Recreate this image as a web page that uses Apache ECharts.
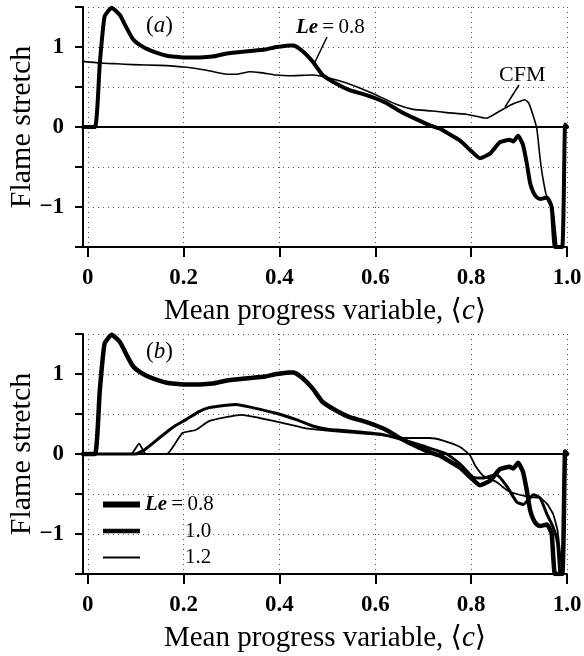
<!DOCTYPE html>
<html>
<head>
<meta charset="utf-8">
<script src="https://cdn.jsdelivr.net/npm/echarts@6/dist/echarts.min.js"></script>
<style>
html,body{margin:0;padding:0;background:#fff;}
#chart{width:584px;height:656px;}
</style>
</head>
<body>
<div id="chart"></div>
<script>
// ---- data ----
const xTickValues = [0, 0.2, 0.4, 0.6, 0.8, 1.0];
const xTickLabels = ['0', '0.2', '0.4', '0.6', '0.8', '1.0'];
const yTickLabels = { '-1': '\u22121', '0': '0', '1': '1' };

// Le = 0.8 (same curve in panels a and b)
const le08X = [-0.01, 0.015, 0.025, 0.035, 0.05, 0.067, 0.08, 0.094, 0.11, 0.129, 0.165, 0.2, 0.234, 0.26, 0.29, 0.338, 0.37, 0.394, 0.42, 0.43, 0.448, 0.469, 0.49, 0.519, 0.546, 0.57, 0.595, 0.623, 0.645, 0.67, 0.692, 0.714, 0.735, 0.749, 0.777, 0.8, 0.818, 0.84, 0.86, 0.88, 0.888, 0.898, 0.908, 0.916, 0.923, 0.93, 0.937, 0.944, 0.958, 0.968, 0.975, 0.99, 0.996, 1.0];
const le08Y = [0, 0, 0.79, 1.38, 1.49, 1.4, 1.25, 1.1, 1.02, 0.96, 0.89, 0.87, 0.87, 0.88, 0.92, 0.95, 0.97, 1.0, 1.02, 1.02, 0.95, 0.82, 0.65, 0.54, 0.46, 0.42, 0.37, 0.3, 0.22, 0.14, 0.08, 0.02, -0.02, -0.07, -0.17, -0.3, -0.39, -0.33, -0.19, -0.16, -0.18, -0.11, -0.22, -0.45, -0.7, -0.82, -0.88, -0.9, -0.88, -1.0, -1.5, -1.5, 0.03, 0.0];

// CFM (panel a)
const cfmX = [-0.01, 0.025, 0.06, 0.094, 0.15, 0.2, 0.248, 0.29, 0.31, 0.338, 0.36, 0.394, 0.42, 0.47, 0.505, 0.54, 0.595, 0.645, 0.679, 0.72, 0.749, 0.79, 0.832, 0.86, 0.875, 0.888, 0.902, 0.912, 0.92, 0.929, 0.937, 0.944, 0.95, 0.958, 0.965, 0.971, 0.979];
const cfmY = [0.82, 0.8, 0.79, 0.78, 0.77, 0.75, 0.71, 0.66, 0.66, 0.69, 0.68, 0.65, 0.64, 0.65, 0.61, 0.55, 0.42, 0.28, 0.22, 0.2, 0.18, 0.16, 0.11, 0.2, 0.25, 0.29, 0.32, 0.34, 0.3, 0.15, -0.02, -0.4, -0.65, -0.88, -0.92, -1.04, -1.5];

// Le = 1.0 (panel b)
const le10X = [-0.01, 0.1, 0.12, 0.149, 0.17, 0.184, 0.205, 0.232, 0.253, 0.289, 0.31, 0.343, 0.393, 0.435, 0.469, 0.5, 0.54, 0.609, 0.657, 0.7, 0.749, 0.776, 0.804, 0.825, 0.853, 0.874, 0.895, 0.909, 0.93, 0.944, 0.958, 0.97, 0.98, 0.985];
const le10Y = [0, 0, 0.06, 0.2, 0.3, 0.36, 0.43, 0.53, 0.58, 0.61, 0.62, 0.58, 0.51, 0.43, 0.35, 0.31, 0.29, 0.25, 0.18, 0.1, 0.0, -0.12, -0.29, -0.3, -0.26, -0.4, -0.6, -0.63, -0.51, -0.55, -0.75, -0.9, -1.1, -1.5];

// Le = 1.2 (panel b)
const le12X = [-0.01, 0.09, 0.107, 0.121, 0.165, 0.197, 0.225, 0.253, 0.289, 0.322, 0.358, 0.406, 0.448, 0.469, 0.54, 0.609, 0.657, 0.713, 0.74, 0.776, 0.797, 0.808, 0.825, 0.853, 0.874, 0.895, 0.923, 0.944, 0.958, 0.971, 0.98, 0.99];
const le12Y = [0, 0, 0.13, 0.0, 0.0, 0.26, 0.3, 0.41, 0.46, 0.49, 0.45, 0.39, 0.33, 0.31, 0.27, 0.24, 0.2, 0.2, 0.17, 0.09, -0.01, -0.14, -0.27, -0.35, -0.45, -0.5, -0.54, -0.55, -0.62, -0.75, -0.95, -1.5];

// ---- chart ----
const FONT = '"Liberation Serif", "DejaVu Serif", serif';
const pairs = (xs, ys) => xs.map((x, i) => [x, ys[i]]);

function xAxisFor(gridIndex) {
  return {
    type: 'value', gridIndex, min: -0.01, max: 1.0,
    name: 'Mean progress variable, \u27e8{it|c}\u27e9',
    nameLocation: 'middle', nameGap: 50,
    nameTextStyle: { fontFamily: FONT, fontSize: 29, color: '#000',
      rich: { it: { fontFamily: FONT, fontSize: 29, fontStyle: 'italic', color: '#000' } } },
    axisLine: { show: true, onZero: false, lineStyle: { color: '#000', width: 2 } },
    axisTick: { show: true, inside: false, length: 10, customValues: xTickValues, lineStyle: { color: '#000', width: 2 } },
    axisLabel: { customValues: xTickValues, margin: 20, fontFamily: FONT, fontSize: 23, fontWeight: 'bold', color: '#000',
      formatter: v => xTickLabels[xTickValues.findIndex(t => Math.abs(t - v) < 1e-6)] },
    splitLine: { show: true, lineStyle: { color: '#555', width: 1, type: [1, 4] } }
  };
}
function yAxisFor(gridIndex) {
  return {
    type: 'value', gridIndex, min: -1.5, max: 1.5, interval: 0.5,
    name: 'Flame stretch', nameLocation: 'middle', nameGap: 46, nameRotate: 90,
    nameMoveOverlap: false,
    nameTextStyle: { fontFamily: FONT, fontSize: 30, color: '#000' },
    axisLine: { show: true, onZero: false, lineStyle: { color: '#000', width: 2 } },
    axisTick: { show: true, length: 8, lineStyle: { color: '#000', width: 2 } },
    axisLabel: { margin: 19, fontFamily: FONT, fontSize: 23, fontWeight: 'bold', color: '#000',
      formatter: v => Number.isInteger(v) && yTickLabels[String(v)] !== undefined ? yTickLabels[String(v)] : '' },
    splitLine: { show: true, lineStyle: { color: '#555', width: 1, type: [1, 4] } }
  };
}
const zeroLine = {
  silent: true, symbol: ['none', 'none'], label: { show: false },
  lineStyle: { color: '#000', width: 2, type: 'solid' },
  data: [{ yAxis: 0 }]
};
function lineSeries(name, xi, yi, data, width, extra) {
  return Object.assign({
    name, type: 'line', xAxisIndex: xi, yAxisIndex: yi, data,
    showSymbol: false, symbol: 'none', smooth: 0.15, clip: true,
    lineStyle: { color: '#000', width, cap: 'round', join: 'round' },
    itemStyle: { color: '#000' }, z: 3
  }, extra || {});
}

const chart = echarts.init(document.getElementById('chart'), null, { renderer: 'canvas' });
chart.setOption({
  backgroundColor: '#fff',
  animation: false,
  grid: [
    { left: 83, right: 17, top: 7, height: 240, containLabel: false, outerBoundsMode: 'none' },
    { left: 83, right: 17, top: 334, height: 240, containLabel: false, outerBoundsMode: 'none' }
  ],
  xAxis: [xAxisFor(0), xAxisFor(1)],
  yAxis: [yAxisFor(0), yAxisFor(1)],
  legend: {
    data: [
      { name: 'Le=0.8', lineStyle: { width: 6, cap: 'butt' } },
      { name: '1.0', lineStyle: { width: 4.5, cap: 'butt' } },
      { name: '1.2', lineStyle: { width: 2, cap: 'butt' } }
    ],
    orient: 'vertical', left: 100, top: 494, padding: 0,
    itemWidth: 37, itemHeight: 14, itemGap: 5.5,
    selectedMode: false,
    itemStyle: { opacity: 0 },
    textStyle: { fontFamily: FONT, fontSize: 21, color: '#000', lineHeight: 20,
      rich: {
        it: { fontFamily: FONT, fontSize: 21, lineHeight: 20, fontStyle: 'italic', fontWeight: 'bold', color: '#000' },
        t: { fontFamily: FONT, fontSize: 21, lineHeight: 20, color: '#000' },
        p: { fontFamily: FONT, fontSize: 21, lineHeight: 20, color: '#000', padding: [0, 0, 0, 40] }
      } },
    formatter: n => n === 'Le=0.8' ? '{it|Le}{t|\u2009=\u20090.8}' : '{p|' + n + '}'
  },
  graphic: [
    { type: 'text', left: 146, top: 14, style: { text: '({i|a})', fontFamily: FONT, fontSize: 23, fill: '#000',
        rich: { i: { fontFamily: FONT, fontSize: 23, fontStyle: 'italic', fill: '#000' } } } },
    { type: 'text', left: 146, top: 340, style: { text: '({i|b})', fontFamily: FONT, fontSize: 23, fill: '#000',
        rich: { i: { fontFamily: FONT, fontSize: 23, fontStyle: 'italic', fill: '#000' } } } },
    { type: 'text', left: 296, top: 17, style: { text: '{i|Le}\u2009=\u20090.8', fontFamily: FONT, fontSize: 21, fill: '#000',
        rich: { i: { fontFamily: FONT, fontSize: 21, fontStyle: 'italic', fontWeight: 'bold', fill: '#000' } } } },
    { type: 'line', shape: { x1: 327, y1: 37, x2: 315, y2: 62 }, style: { stroke: '#000', lineWidth: 1.5 } },
    { type: 'text', left: 499, top: 64, style: { text: 'CFM', fontFamily: FONT, fontSize: 22, fill: '#000' } },
    { type: 'line', shape: { x1: 519, y1: 85, x2: 505, y2: 107 }, style: { stroke: '#000', lineWidth: 1.5 } }
  ],
  series: [
    lineSeries('Le=0.8 (a)', 0, 0, pairs(le08X, le08Y), 4, { markLine: zeroLine }),
    lineSeries('CFM', 0, 0, pairs(cfmX, cfmY), 1.6),
    lineSeries('Le=0.8', 1, 1, pairs(le08X, le08Y), 4.5, { markLine: zeroLine }),
    lineSeries('1.0', 1, 1, pairs(le10X, le10Y), 3),
    lineSeries('1.2', 1, 1, pairs(le12X, le12Y), 1.8)
  ]
});
</script>
</body>
</html>
